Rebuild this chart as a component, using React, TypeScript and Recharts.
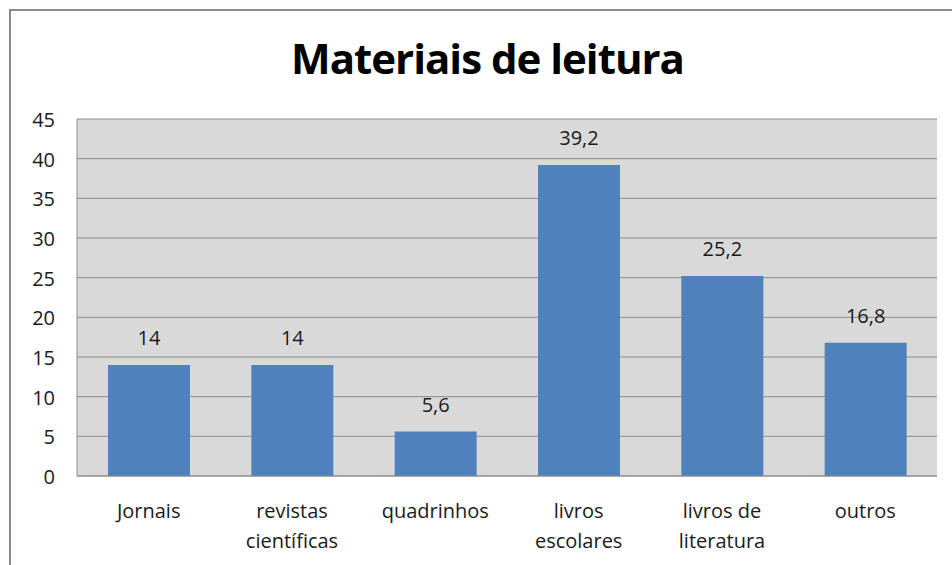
import { Bar, BarChart, CartesianGrid, LabelList, XAxis, YAxis } from "recharts";

const categories = [
  "Jornais",
  "revistas\ncientíficas",
  "quadrinhos",
  "livros\nescolares",
  "livros de\nliteratura",
  "outros",
];
const values = [14, 14, 5.6, 39.2, 25.2, 16.8];
const yTicks = [0, 5, 10, 15, 20, 25, 30, 35, 40, 45];

const rows = categories.map((name, i) => ({ name, value: values[i] }));

const font = "'Open Sans', 'Noto Sans', sans-serif";
const textColor = "#1a1a1a";

function CategoryTick({ x, y, payload }: any) {
  const lines = String(payload.value).split("\n");
  return (
    <text x={x} y={y} textAnchor="middle" fill={textColor} fontFamily={font} fontSize={20}>
      {lines.map((line, i) => (
        <tspan key={i} x={x} dy={i === 0 ? 34 : 30}>
          {line}
        </tspan>
      ))}
    </text>
  );
}

const formatValue = (v: number) => String(v).replace(".", ",");

export default function App() {
  return (
    <div style={{ position: "absolute", left: 0, top: 0, width: 952, height: 565, overflow: "hidden", background: "#fff" }}>
      <div
        style={{
          position: "absolute",
          left: 9,
          top: 9,
          width: 1000,
          height: 620,
          border: "2px solid #8a8a8a",
          boxSizing: "border-box",
        }}
      />
      <div
        style={{
          position: "absolute",
          left: 0,
          width: 975,
          top: 31,
          textAlign: "center",
          fontFamily: font,
          fontWeight: 700,
          fontSize: 42,
          letterSpacing: -1,
          color: "#000",
          lineHeight: "54px",
        }}
      >
        Materiais de leitura
      </div>
      <div style={{ position: "absolute", left: 0, top: 0 }}>
        <BarChart
          width={952}
          height={565}
          data={rows}
          margin={{ top: 119, right: 15, bottom: 0, left: 17 }}
        >
          <CartesianGrid vertical={false} stroke="#8c8c8c" fill="#d9d9d9" />
          <XAxis
            dataKey="name"
            interval={0}
            tick={<CategoryTick />}
            tickLine={false}
            axisLine={{ stroke: "#8c8c8c" }}
            height={89}
          />
          <YAxis
            width={60}
            domain={[0, 45]}
            ticks={yTicks}
            interval={0}
            tickLine={false}
            tickSize={0}
            tickMargin={22}
            axisLine={{ stroke: "#8c8c8c" }}
            tick={{ fill: textColor, fontFamily: font, fontSize: 20, dy: 1 }}
          />
          <Bar dataKey="value" fill="#4f81bd" barSize={82} isAnimationActive={false}>
            <LabelList
              dataKey="value"
              position="top"
              offset={20}
              formatter={formatValue}
              style={{ fill: textColor, fontFamily: font, fontSize: 20 }}
            />
          </Bar>
        </BarChart>
      </div>
    </div>
  );
}
